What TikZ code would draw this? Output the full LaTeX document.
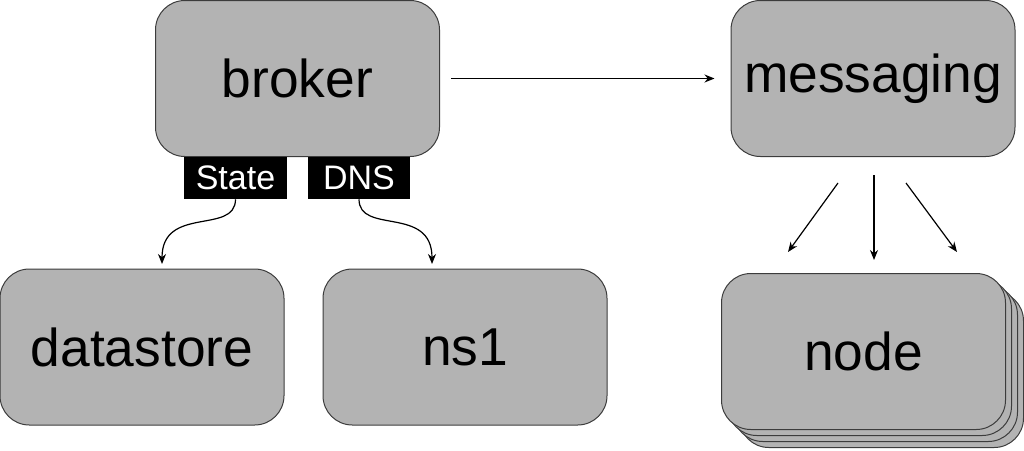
\documentclass[tikz,border=0pt]{standalone}
\usepackage{fontspec}
\setmainfont{Liberation Sans}
\usetikzlibrary{arrows.meta}
\definecolor{boxfill}{RGB}{179,179,179}
\definecolor{boxline}{RGB}{60,60,60}
\begin{document}
\begin{tikzpicture}[x=0.75pt,y=0.75pt,yscale=-1,xscale=1,
  box/.style={draw=boxline,fill=boxfill,rounded corners=22pt,line width=0.75pt,minimum width=213pt,minimum height=117pt,inner sep=0pt,font=\fontsize{40}{48}\selectfont},
  tag/.style={fill=black,text=white,minimum width=77pt,minimum height=31.5pt,inner sep=0pt,font=\fontsize{25.5}{30}\selectfont},
  link/.style={-{Stealth[length=7.5pt,width=6pt]},line width=0.9pt}]
\useasboundingbox (0,0) rectangle (1024,450);

%Boxes
\node [box] (broker) at (297.5,78.5) {broker};
\node [box] (messaging) at (873,78.5) {messaging};
\node [box] (datastore) at (142,347) {datastore};
\node [box] (ns1) at (465,347) {ns1};
%stack of nodes
\node [box] (node3) at (881.5,369.5) {};
\node [box] (node2) at (875.5,363.5) {};
\node [box] (node1) at (869.5,357.5) {};
\node [box] (node) at (863.5,351.5) {node};

%Tags under broker
\node [tag] (state) at (235.5,178) {State};
\node [tag] (dns) at (359,178) {DNS};

%Free ends
\coordinate (ds in) at (162,264);
\coordinate (ns in) at (432,264);
\coordinate (fan l) at (838,183);
\coordinate (fan m) at (874,175);
\coordinate (fan r) at (906,183);
\coordinate (to l) at (788,252);
\coordinate (to m) at (874,260);
\coordinate (to r) at (957,252);

%Arrows
\draw [link,shorten <=8.25pt,shorten >=12pt] (broker.east) -- (messaging.west);
\draw [link] (state.south) .. controls (235.5,235) and (162,205) .. (ds in);
\draw [link] (dns.south) .. controls (359,235) and (432,205) .. (ns in);
\draw [link] (fan l) -- (to l);
\draw [link] (fan m) -- (to m);
\draw [link] (fan r) -- (to r);

\end{tikzpicture}
\end{document}
